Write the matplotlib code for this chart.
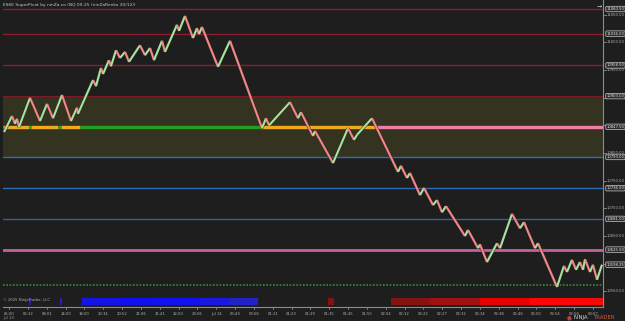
import numpy as np
import matplotlib
matplotlib.use("Agg")
import matplotlib.pyplot as plt
from matplotlib.collections import LineCollection
import matplotlib.patheffects as pe
from matplotlib.transforms import blended_transform_factory

# ---------------- data ----------------
title = "ES6E SuperPivot by ninZa.co (NQ 09-25 (ninZaRenko 30/12))"

swing_bar = [4, 12, 15, 17, 19, 30, 40, 47, 53, 62, 71, 77, 78, 93, 96, 101, 103,
             109, 111, 116, 120, 125, 129, 140, 145, 150, 154, 162, 165, 177, 179,
             185, 193, 197, 199, 202, 218, 230, 262, 266, 269, 290, 298, 301, 313,
             315, 333, 348, 354, 357, 372, 398, 401, 407, 410, 420, 424, 433, 437,
             442, 446, 465, 468, 478, 480, 487, 497, 500, 512, 520, 524, 535, 538,
             557, 564, 567, 572, 576, 580, 583, 585, 590, 593, 597, 602]
swing_price = [10838, 10867, 10853, 10862, 10847, 10900, 10858, 10889, 10863, 10905,
               10858, 10882, 10871, 10932, 10921, 10954, 10943, 10968, 10957, 10986,
               10972, 10983, 10965, 10995, 10977, 10990, 10968, 11003, 10983, 11032,
               11021, 11048, 11008, 11026, 11015, 11028, 10956, 11003, 10845, 10863,
               10850, 10892, 10863, 10874, 10831, 10840, 10782, 10845, 10824, 10833,
               10863, 10766, 10777, 10755, 10764, 10724, 10737, 10706, 10715, 10693,
               10704, 10650, 10661, 10628, 10635, 10603, 10637, 10628, 10690, 10664,
               10675, 10628, 10637, 10558, 10596, 10585, 10607, 10589, 10603, 10589,
               10608, 10585, 10598, 10571, 10598.25]

level_prices = [11060.5, 11016.0, 10958.5, 10903.0, 10793.0, 10736.5, 10681.0, 10625.5]
level_colors = ["#8e1b30", "#8e1b30", "#8e1b30", "#7c1a2a", "#2f6cb3", "#2f6cb3",
                "#3a5f98", "#c4609a"]
level_widths = [1.0, 1.0, 1.0, 0.8, 1.0, 1.0, 1.0, 2.0]

zone_top, zone_bottom = 10903.0, 10793.0
pivot_price = 10847.5
pivot_seg_start = [3, 29, 31, 58, 61, 80, 262, 377]
pivot_seg_end = [29, 31, 58, 61, 80, 262, 377, 603]
pivot_seg_color = ["#f0aa1e", "#2aa02a", "#f0aa1e", "#2aa02a", "#f0aa1e",
                   "#22a022", "#f0aa1e", "#f07ea8"]

last_price = 10598.25
stop_price = 10561.5

time_labels = ["05:00", "06:12", "08:01", "14:00", "18:00", "20:34", "20:52", "21:06",
               "21:41", "22:03", "23:06", "Jul 14", "00:43", "00:56", "01:11", "01:23",
               "01:29", "01:35", "01:45", "01:55", "02:04", "02:12", "02:22", "02:27",
               "02:32", "02:34", "02:38", "02:46", "02:50", "02:54", "02:58", "03:07"]

strip_start = [29, 60, 82, 120, 150, 200, 230, 328, 391, 430, 480, 530]
strip_end = [31, 62, 120, 150, 200, 230, 258, 334, 430, 480, 530, 603]
strip_color = ["#2020c0", "#2020c0", "#1414e6", "#1010f0", "#1212f0", "#1818e0",
               "#2222c8", "#8a1010", "#861212", "#a01212", "#e60000", "#ff0505"]

# ---------------- figure ----------------
BG = "#1e1e1e"
fig = plt.figure(figsize=(6.25, 3.21), dpi=100, facecolor=BG)
ax = fig.add_axes([3 / 625, 14 / 321, 600 / 625, 307 / 321])
ax.set_facecolor(BG)
ax.set_xlim(3, 603)
ax.set_ylim(10521.7, 11076.8)
for s in ax.spines.values():
    s.set_visible(False)
ax.set_xticks([])
ax.set_yticks([])

# zone
ax.axhspan(zone_bottom, zone_top, xmin=0, xmax=1, color="#34331f", zorder=1, lw=0)

# level lines
for p, c, w in zip(level_prices, level_colors, level_widths):
    ax.axhline(p, color=c, lw=w, zorder=2)

# stop dotted line
ax.axhline(stop_price, color="#2f8f2f", lw=1.2, ls=(0, (1, 1)), zorder=2)

# pivot line coloured segments
for x0, x1, c in zip(pivot_seg_start, pivot_seg_end, pivot_seg_color):
    ax.plot([x0, x1], [pivot_price, pivot_price], color=c, lw=2.4,
            solid_capstyle="butt", zorder=3)

# renko zigzag
segs = []
cols = []
for i in range(len(swing_bar) - 1):
    segs.append([(swing_bar[i], swing_price[i]), (swing_bar[i + 1], swing_price[i + 1])])
    cols.append("#9fe69f" if swing_price[i + 1] >= swing_price[i] else "#f08888")
lc = LineCollection(segs, colors=cols, linewidths=1.5, zorder=5, capstyle="butt",
                    joinstyle="miter")
lc.set_path_effects([pe.Stroke(linewidth=2.1, foreground="#402626"), pe.Normal()])
ax.add_collection(lc)

# bottom strip
tb = blended_transform_factory(ax.transData, ax.transAxes)
for x0, x1, c in zip(strip_start, strip_end, strip_color):
    ax.add_patch(plt.Rectangle((x0, 0.006), x1 - x0, 0.022, transform=tb,
                               facecolor=c, edgecolor="none", zorder=4, clip_on=False))

# right axis
AXC = "#8c8c8c"
FS = 2.7
marker_prices = [11060.5, 11016.0, 10958.5, 10903.0, 10847.5, 10793.0, 10736.5,
                 10681.0, 10625.5, last_price]
ax.plot([1, 1], [0, 1], transform=ax.transAxes, color=AXC, lw=0.8, clip_on=False)
ax.plot([0, 1], [0, 0], transform=ax.transAxes, color=AXC, lw=0.8, clip_on=False)
for p in np.arange(10550, 11051, 50):
    ax.plot([603, 606], [p, p], color=AXC, lw=0.6, clip_on=False)
    if min(abs(p - m) for m in marker_prices) < 6:
        continue
    ax.text(607, p, f"{p:.2f}", color="#b4b4b4", fontsize=FS, va="center",
            ha="left", clip_on=False)

for p in marker_prices:
    ax.text(606.5, p, f"{p:.2f}", color="#ececec", fontsize=FS, va="center", ha="left",
            clip_on=False, zorder=10,
            bbox=dict(boxstyle="round,pad=0.2,rounding_size=0.3", fc="#2c2c2c",
                      ec="#c8c8c8", lw=0.5))

# x axis ticks/labels
tick_pos = np.linspace(9, 593, len(time_labels))
for x, lab in zip(tick_pos, time_labels):
    ax.plot([x, x], [0, -0.008], transform=tb, color=AXC, lw=0.6, clip_on=False)
    ax.text(x, -0.016, lab, transform=tb, color="#b4b4b4", fontsize=FS,
            ha="center", va="top", clip_on=False)

# texts
fig.text(3 / 625, 1 - 5 / 321, title, color="#c8c8c8", fontsize=3.2, va="center",
         ha="left")
fig.text(3 / 625, 1 - 300 / 321, "© 2025 NinjaTrader, LLC", color="#b0b0b0",
         fontsize=FS, va="center", ha="left", zorder=6)
fig.text(3 / 625, 1 - 318.5 / 321, "Jul 13", color="#a0a0a0", fontsize=FS,
         va="center", ha="left")
fig.text(599 / 625, 1 - 6 / 321, "→", color="#d0d0d0", fontsize=4.5, va="center",
         ha="center")
fig.text(569 / 625, 1 - 317.5 / 321, "●", color="#c0403a", fontsize=4.0, va="center",
         ha="center")
fig.text(573 / 625, 1 - 317.5 / 321, "NINJA", color="#d8d8d8", fontsize=3.9,
         va="center", ha="left")
fig.text(593 / 625, 1 - 317.5 / 321, "TRADER", color="#e0553a", fontsize=3.9,
         va="center", ha="left")

fig.savefig("out.png", dpi=100, facecolor=BG)
